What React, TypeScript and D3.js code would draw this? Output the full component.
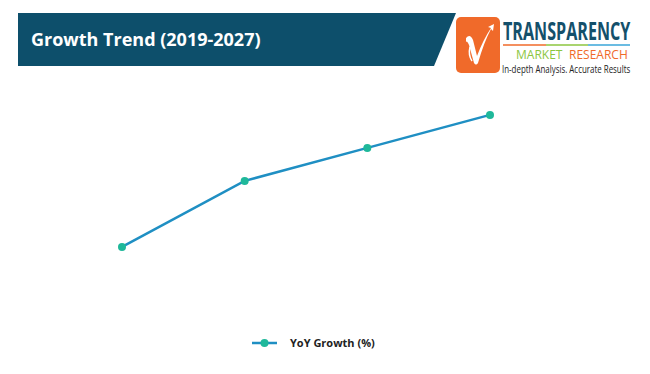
import * as d3 from "d3";

// data
const periods = ["2019", "2021", "2024", "2027"];
const yoyGrowth = [2.77, 4.97, 6.07, 7.17];
const seriesName = "YoY Growth (%)";
const title = "Growth Trend (2019-2027)";

const W = 650;
const H = 374;

export default function App() {
  const x = d3.scalePoint<string>().domain(periods).range([122, 490]);
  const y = d3.scaleLinear().domain([0, 8]).range([330, 90]);

  const line = d3
    .line<number>()
    .x((_, i) => x(periods[i])!)
    .y((d) => y(d));

  const font = "'Open Sans', 'Noto Sans', sans-serif";

  return (
    <svg
      width={W}
      height={H}
      viewBox={`0 0 ${W} ${H}`}
      style={{ position: "absolute", left: 0, top: 0, background: "#fff" }}
    >
      <rect x={0} y={0} width={W} height={H} fill="#fff" />

      {/* header band */}
      <path d="M18,13 L456,13 L434,66 L18,66 Z" fill="#0d4f6b" />
      <text x={31} y={46} fill="#fff" fontFamily={font} fontWeight={700} fontSize={18}>
        {title}
      </text>

      {/* logo */}
      <rect x={456} y={17} width={44} height={56} rx={5} fill="#f06a2a" />
      <path
        d="M466,38 Q470,33 473,40 L477,56 Q483,40 491,28 L488,27 L494,24 L493,31 L491,29 Q484,42 478,63 Q476,66 474,63 L469,45 Q467,40 466,42 Z"
        fill="#fff"
      />
      <path d="M470,47 Q468,55 472,61" fill="none" stroke="#fff" strokeWidth={1.5} />
      <text transform="translate(503,40) scale(0.645,1)" fill="#14506b" fontFamily={font} fontWeight={700} fontSize={25}>
        TRANSPARENCY
      </text>
      <line x1={503} x2={546} y1={45} y2={45} stroke="#f06a2a" strokeWidth={1.5} />
      <line x1={546} x2={588} y1={45} y2={45} stroke="#8cc63f" strokeWidth={1.5} />
      <line x1={588} x2={630} y1={45} y2={45} stroke="#3aa6d8" strokeWidth={1.5} />
      <text x={516} y={59} fill="#8cc63f" fontFamily={font} fontSize={12}>
        MARKET
      </text>
      <text x={569} y={59} fill="#f06a2a" fontFamily={font} fontSize={12}>
        RESEARCH
      </text>
      <text transform="translate(502,73) scale(0.72,1)" fill="#222" fontFamily={font} fontSize={11}>
        In-depth Analysis. Accurate Results
      </text>

      {/* series */}
      <path d={line(yoyGrowth) ?? ""} fill="none" stroke="#1f8fc3" strokeWidth={2.5} />
      {yoyGrowth.map((v, i) => (
        <circle key={periods[i]} cx={x(periods[i])} cy={y(v)} r={4} fill="#1fb89a" />
      ))}

      {/* legend */}
      <line x1={252} x2={277} y1={343} y2={343} stroke="#1f8fc3" strokeWidth={2.5} />
      <circle cx={264.5} cy={343} r={4} fill="#1fb89a" />
      <text x={290} y={347} fill="#222" fontFamily={font} fontWeight={700} fontSize={11}>
        {seriesName}
      </text>
    </svg>
  );
}
